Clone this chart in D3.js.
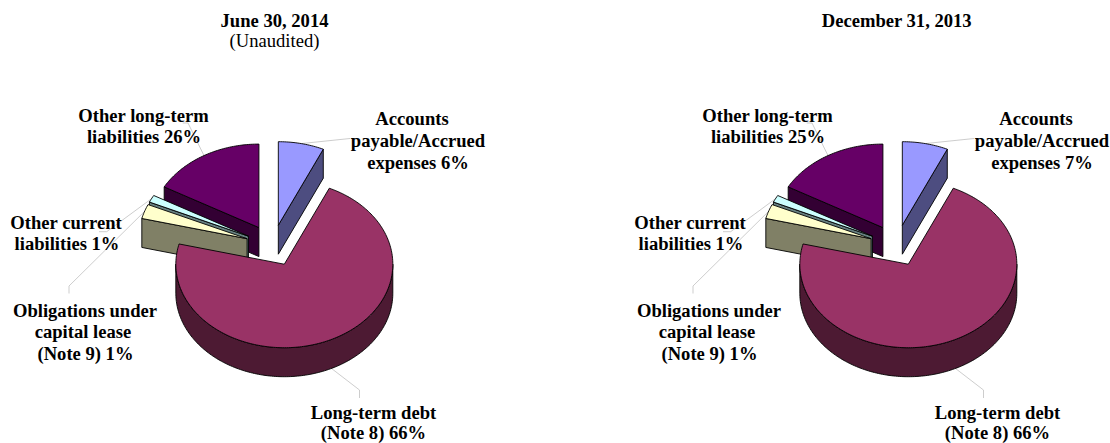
<!DOCTYPE html>
<html>
<head>
<meta charset="utf-8">
<script src="https://cdn.jsdelivr.net/npm/d3@7"></script>
<style>
	html, body { margin:0; padding:0; background:#fff; }
	svg { display:block; }
	text { font-family:"Liberation Serif",serif; fill:#000; }
	.title { font-size:18.6px; font-weight:bold; text-anchor:middle; }
	.subtitle { font-size:18.6px; text-anchor:middle; }
	.label { font-size:18.6px; font-weight:bold; text-anchor:middle; }
	.leader { fill:none; stroke:#c0c0c0; stroke-width:0.8; }
	.face { stroke:#000; stroke-width:0.9; stroke-linejoin:round; }
</style>
</head>
<body>
<svg id="chart" width="1110" height="443"></svg>
<script>
// Chart data
const categories = [
	['Accounts','payable/Accrued','expenses'],
	['Long-term debt','(Note 8)'],
	['Obligations under','capital lease','(Note 9)'],
	['Other current','liabilities'],
	['Other long-term','liabilities']
];
const colors = ['#9999ff','#993366','#ffffcc','#ccffff','#660066'];
const titles = ['June 30, 2014','December 31, 2013'];
const subtitles = ['(Unaudited)',''];
// Percentages printed in the labels
const juneLabels = [6,66,1,1,26];
const decemberLabels = [7,66,1,1,25];
// Slice sizes as drawn (percent of the circle), they differ from the printed numbers
const juneShares = [6.8,72.1,2.8,1.4,16.9];
const decemberShares = [6.8,72.1,2.8,1.4,16.9];

// Layout
const RX = 108.5;
const RY = 83.5;
const DEPTH = 29;
const EXPLODE = 27;
const PANEL_OFFSET = 624; // second chart is the same drawing moved right
const CX = 272.6;
const CY = 245.5;
const TITLE_X = [274.5,272.7];
const TITLE_Y = 27;
const SUBTITLE_Y = 47;
const PAINT_ORDER = [4,3,2,0,1]; // back to front

// Label centre, first baseline, per-line shift and the leader elbow, one row per category.
const labelLayout = [
	{x:418, y:125, gap:22, shift:[-6,0,0], leader:[[350,138.5]], front:false},
	{x:373.5, y:418.5, gap:20.5, shift:[0,0], leader:[[359.5,398],[359.5,390]], front:true},
	{x:85, y:316.7, gap:21.4, shift:[0,-2,0.5], leader:[[69,293.5],[69,286]], front:false},
	{x:66, y:228.8, gap:21.4, shift:[0,1], leader:[[99,231.7],[106.7,231.7]], front:false},
	{x:143.5, y:121.7, gap:21, shift:[0,0.5], leader:[[182.7,123],[188,123]], front:false}
];

const svg = d3.select('#chart');
const pie = d3.pie().sort(null).value(d=>d).startAngle(0).endAngle(2*Math.PI);
const line = d3.line();
const k = RY/RX;

// Point on the flattened rim. Angles run clockwise from 12 o'clock.
const rim = (c,a) => [c.x + RX*Math.sin(a), c.y - RY*Math.cos(a)];
const down = p => [p[0], p[1]+DEPTH];
const rimPoints = (c,a0,a1) => {
	const n = Math.max(2,Math.ceil((a1-a0)/0.02));
	return d3.range(n+1).map(i=>rim(c,a0+(a1-a0)*i/n));
};

const drawPie = (panel,shares,printed,title,subtitle) => {
	const g = svg.append('g').attr('transform',`translate(${panel*PANEL_OFFSET},0)`);
	
	g.append('text').attr('class','title').attr('x',TITLE_X[panel]).attr('y',TITLE_Y).text(title);
	if (subtitle) {
		g.append('text').attr('class','subtitle').attr('x',TITLE_X[panel]).attr('y',SUBTITLE_Y).text(subtitle);
	}
	
	const slices = pie(shares).map((d,i)=>{
		const mid = (d.startAngle+d.endAngle)/2;
		return {
			index:i,
			a0:d.startAngle,
			a1:d.endAngle,
			mid:mid,
			c:{x:CX + EXPLODE*Math.sin(mid), y:CY - EXPLODE*k*Math.cos(mid)}
		};
	});
	
	// Leader lines go under the pie
	slices.forEach(s=>{
		const L = labelLayout[s.index];
		let start = rim(s.c,s.mid);
		if (L.front) {
			start = down(start);
		}
		g.append('path')
			.attr('class','leader')
			.attr('d',line(L.leader.concat([start])));
	});
	
	PAINT_ORDER.forEach(i=>{
		const s = slices[i];
		const top = d3.color(colors[i]);
		const side = d3.rgb(top.r/2,top.g/2,top.b/2).formatHex();
		const apex = [s.c.x,s.c.y];
		
		// Cut faces, only the ones turned towards the viewer
		[[s.a1,Math.sin(s.a1)>0],[s.a0,Math.sin(s.a0)<0]].forEach(([a,visible])=>{
			if (visible) {
				const p = rim(s.c,a);
				g.append('path')
					.attr('class','face')
					.attr('fill',side)
					.attr('d',line([apex,p,down(p),down(apex)])+'Z');
			}
		});
		
		// Outer wall, the part of the rim on the front half
		const w0 = Math.max(s.a0,Math.PI/2);
		const w1 = Math.min(s.a1,3*Math.PI/2);
		if (w1 > w0) {
			const pts = rimPoints(s.c,w0,w1);
			g.append('path')
				.attr('class','face')
				.attr('fill',side)
				.attr('d',line(pts.concat(pts.map(down).reverse()))+'Z');
		}
		
		g.append('path')
			.attr('class','face')
			.attr('fill',colors[i])
			.attr('d',line([apex].concat(rimPoints(s.c,s.a0,s.a1)))+'Z');
	});
	
	categories.forEach((lines,i)=>{
		const L = labelLayout[i];
		const text = g.append('text').attr('class','label');
		lines.forEach((t,j)=>{
			text.append('tspan')
				.attr('x',L.x+L.shift[j])
				.attr('y',L.y+j*L.gap)
				.text(j===lines.length-1 ? `${t} ${printed[i]}%` : t);
		});
	});
};

drawPie(0,juneShares,juneLabels,titles[0],subtitles[0]);
drawPie(1,decemberShares,decemberLabels,titles[1],subtitles[1]);
</script>
</body>
</html>
